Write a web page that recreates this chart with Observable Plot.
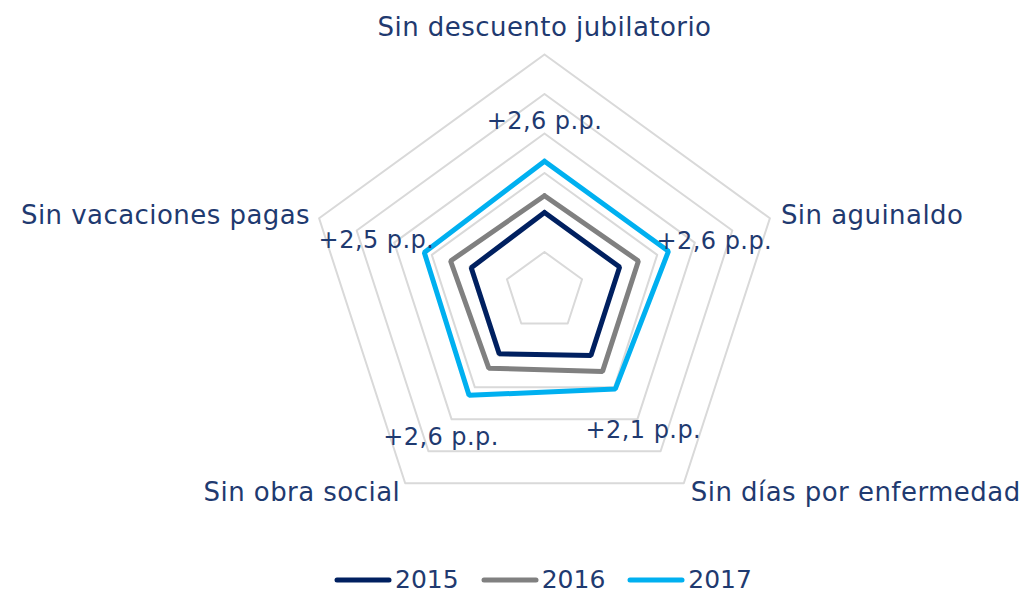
<!DOCTYPE html>
<html><head><meta charset="utf-8">
<script src="https://cdn.jsdelivr.net/npm/d3@7"></script>
<script src="https://cdn.jsdelivr.net/npm/@observablehq/plot@0.6"></script>
<style>
body{margin:0;background:#fff;font-family:"DejaVu Sans",sans-serif;}
#chart{width:1024px;height:565px;}
#chart text{letter-spacing:0.45px;}
#legend{width:1024px;height:29px;box-sizing:border-box;padding-left:62px;display:flex;justify-content:center;align-items:center;gap:22px;color:#1f3a70;font-size:25px;}
#legend .item{display:flex;align-items:center;gap:3px;}
#legend svg{display:block;}
</style></head><body>
<div id="chart"></div>
<div id="legend"></div>
<script>
const categories = ["Sin descuento jubilatorio","Sin aguinaldo","Sin días por enfermedad","Sin obra social","Sin vacaciones pagas"];
const years = ["2015","2016","2017"];
const v2015 = [4.0, 4.0, 4.0, 3.9, 3.9];
const v2016 = [4.85, 5.0, 5.0, 4.8, 5.0];
const v2017 = [6.6, 6.6, 6.1, 6.5, 6.4];
const diffLabels = ["+2,6 p.p.","+2,6 p.p.","+2,1 p.p.","+2,6 p.p.","+2,5 p.p."];
const gridLevels = [2, 4, 6, 8, 10, 12];
const colors = ["#002060", "#808080", "#00B0F0"];
const textColor = "#1f3a70";

const W = 1024, H = 565, cx = 544, cy = 291;
const maxR = 12, k = 237 / maxR;
const n = categories.length;
const ang = i => i * 2 * Math.PI / n;
const px = (r, i) => r * Math.sin(ang(i));
const py = (r, i) => r * Math.cos(ang(i));

const gridPts = gridLevels.flatMap(l => d3.range(n + 1).map(i => ({level: l, x: px(l, i % n), y: py(l, i % n)})));
const seriesVals = [v2015, v2016, v2017];
const seriesPts = years.flatMap((yr, s) => d3.range(n + 1).map(i => ({year: yr, x: px(seriesVals[s][i % n], i % n), y: py(seriesVals[s][i % n], i % n)})));

const catPts = categories.map((c, i) => ({text: c, x: px(maxR, i), y: py(maxR, i)}));
const diffPts = diffLabels.map((t, i) => ({text: t, x: px(v2017[i], i), y: py(v2017[i], i)}));

const catOpts = [
  {textAnchor: "middle", dx: 0, dy: -27},
  {textAnchor: "start", dx: 11, dy: -3},
  {textAnchor: "start", dx: 7, dy: 9},
  {textAnchor: "end", dx: -5, dy: 9},
  {textAnchor: "end", dx: -9, dy: -3}
];
const diffOpts = [
  {textAnchor: "middle", dx: 0, dy: -40},
  {textAnchor: "start", dx: -12, dy: -10},
  {textAnchor: "middle", dx: 28, dy: 41},
  {textAnchor: "middle", dx: -28, dy: 42},
  {textAnchor: "end", dx: 10, dy: -12}
];

const marks = [
  Plot.line(gridPts, {x: "x", y: "y", z: "level", stroke: "#d9d9d9", strokeWidth: 2}),
  Plot.line(seriesPts, {x: "x", y: "y", z: "year", stroke: "year", strokeWidth: 5, strokeLinejoin: "miter"}),
  ...catPts.map((d, i) => Plot.text([d], {x: "x", y: "y", text: "text", fill: textColor, fontSize: 26, ...catOpts[i]})),
  ...diffPts.map((d, i) => Plot.text([d], {x: "x", y: "y", text: "text", fill: textColor, fontSize: 24, ...diffOpts[i]}))
];

const chart = Plot.plot({
  width: W, height: H,
  marginTop: 0, marginBottom: 0, marginLeft: 0, marginRight: 0,
  x: {domain: [-cx / k, (W - cx) / k], range: [0, W], axis: null},
  y: {domain: [-(H - cy) / k, cy / k], range: [H, 0], axis: null},
  color: {domain: years, range: colors},
  style: {fontFamily: "DejaVu Sans, sans-serif", background: "#fff"},
  marks
});
document.getElementById("chart").appendChild(chart);

const legend = document.getElementById("legend");
years.forEach((yr, i) => {
  const item = document.createElement("div");
  item.className = "item";
  item.innerHTML = `<svg width="58" height="8"><line x1="3" y1="4" x2="55" y2="4" stroke="${colors[i]}" stroke-width="5" stroke-linecap="round"/></svg><span>${yr}</span>`;
  legend.appendChild(item);
});
</script>
</body></html>
